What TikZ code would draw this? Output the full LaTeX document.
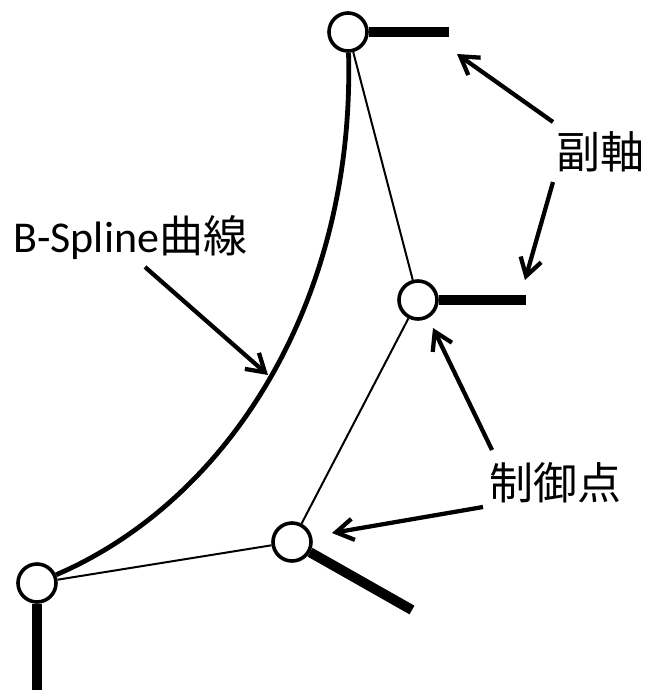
\documentclass[tikz,border=0pt]{standalone}
\usepackage{fontspec}
\setmainfont{Carlito}
\newfontfamily\cjk{Noto Sans CJK JP}
\usetikzlibrary{arrows.meta}
\begin{document}
\begin{tikzpicture}[x=0.75pt,y=-0.75pt,
  ctrlpt/.style={circle,draw,line width=2.7pt,fill=white,minimum size=28.5pt,inner sep=0pt},
  subaxis/.style={line width=7.5pt},
  polygon/.style={line width=1.5pt},
  spline/.style={line width=3.6pt},
  pointer/.style={line width=3.2pt,-{Straight Barb[length=13pt,width=16pt]}},
  lbl/.style={inner sep=0pt,font=\fontsize{33}{40}\selectfont}]
\useasboundingbox (0,0) rectangle (646,693);

% control points
\node[ctrlpt] (p0) at (37,583) {};
\node[ctrlpt] (p1) at (292,542) {};
\node[ctrlpt] (p2) at (418,300) {};
\node[ctrlpt] (p3) at (348,32) {};

% ends of the sub-axis bars
\coordinate (b0) at (37,690);
\coordinate (b1) at (412,610);
\coordinate (b2) at (526,300);
\coordinate (b3) at (449,32);

% control polygon
\draw[polygon] (p0) -- (p1);
\draw[polygon] (p1) -- (p2);
\draw[polygon] (p2) -- (p3);

% the curve
\draw[spline] (p0) .. controls (230,500) and (355,300) .. (p3);

% sub-axes
\draw[subaxis] (p0) -- (b0);
\draw[subaxis] (p1) -- (b1);
\draw[subaxis] (p2) -- (b2);
\draw[subaxis] (p3) -- (b3);

% labels
\node[lbl,anchor=base west] (lspline) at (13,252) {B-Spline{\cjk 曲線}};
\node[lbl] (laxis) at (600,152) {\cjk 副軸};
\node[lbl] (lctrl) at (555,483) {\cjk 制御点};

% pointer arrows
\coordinate (s1) at (145,267);
\coordinate (t1) at (268,375);
\coordinate (s2) at (553,122);
\coordinate (t2) at (457,54);
\coordinate (s3) at (553,182);
\coordinate (t3) at (525,280);
\coordinate (s4) at (492,450);
\coordinate (t4) at (433,328);
\coordinate (s5) at (483,507);
\coordinate (t5) at (332,533);
\draw[pointer] (s1) -- (t1);
\draw[pointer] (s2) -- (t2);
\draw[pointer] (s3) -- (t3);
\draw[pointer] (s4) -- (t4);
\draw[pointer] (s5) -- (t5);
\end{tikzpicture}
\end{document}
